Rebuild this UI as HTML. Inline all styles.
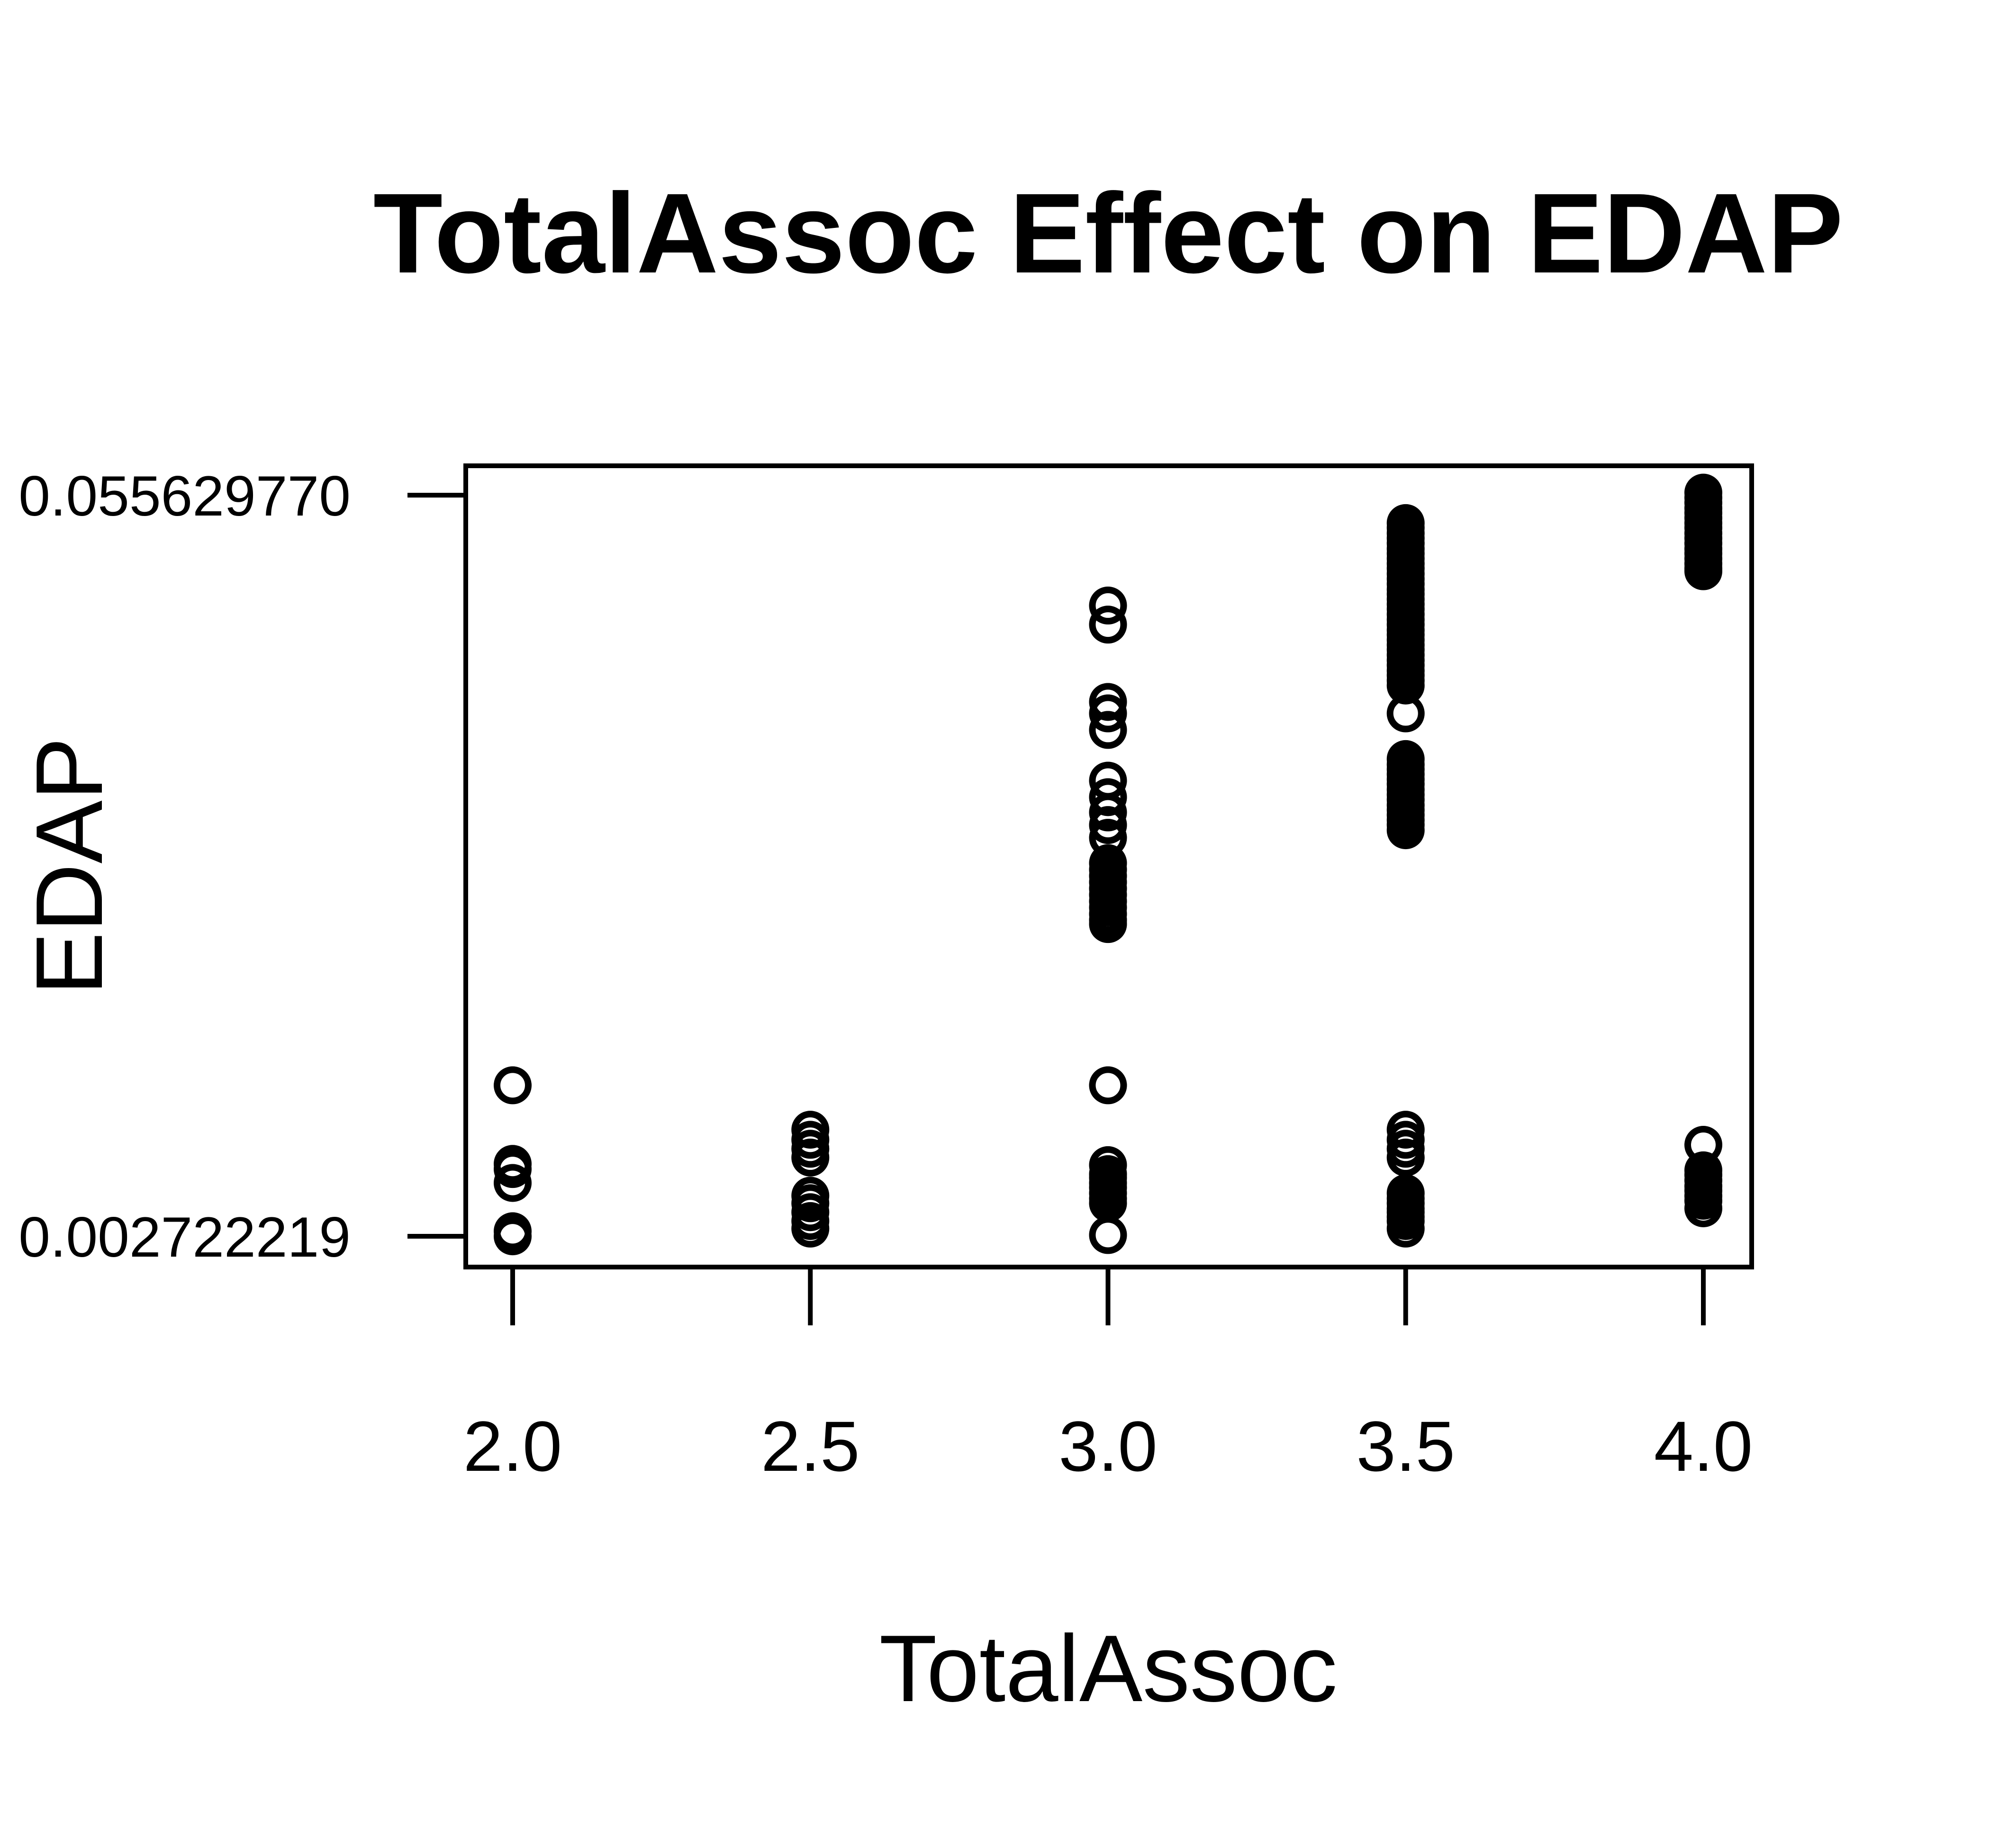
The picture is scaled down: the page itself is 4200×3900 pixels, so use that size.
<!DOCTYPE html>
<html><head><meta charset="utf-8"><style>
html,body{margin:0;padding:0;background:#fff;}
svg{display:block;font-family:"Liberation Sans",sans-serif;}
</style></head><body>
<svg id="chart" width="4200" height="3900" viewBox="0 0 4200 3900">
<text x="2339" y="575" text-anchor="middle" font-size="240" font-weight="bold">TotalAssoc Effect on EDAP</text>
<rect x="983" y="983" width="2714" height="1691" fill="none" stroke="#000" stroke-width="10"/>
<g id="xaxis"></g>
<g id="yaxis"></g>
<g id="points"></g>
<text x="2339" y="3590" text-anchor="middle" font-size="200">TotalAssoc</text>
<text transform="translate(215,1828) rotate(-90)" text-anchor="middle" font-size="200">EDAP</text>
</svg>
<script>
const xCats=[2.0,2.5,3.0,3.5,4.0];
const xTickLabels=["2.0","2.5","3.0","3.5","4.0"];
const yTicks=[0.002722219,0.055629770];
const yTickLabels=["0.002722219","0.055629770"];
const vals20=[0.01350,0.00789,0.00752,0.00653,0.00308,0.00272];
const vals25=[0.01033,0.00961,0.00897,0.00834,0.00562,0.00508,0.00444,0.00381,0.00327];
const vals30=[0.04775,0.04639,0.04087,0.04005,0.03887,0.03525,0.03407,0.03298,0.03208,0.03117,0.02936,0.02890,0.02845,0.02800,0.02755,0.02710,0.02664,0.02620,0.02573,0.02530,0.02501,0.01350,0.00780,0.00716,0.00690,0.00653,0.00620,0.00580,0.00540,0.00508,0.00281];
const vals35=[0.05364,0.05330,0.05291,0.05255,0.05219,0.05180,0.05147,0.05110,0.05074,0.05040,0.05002,0.04965,0.04929,0.04890,0.04857,0.04820,0.04784,0.04750,0.04712,0.04675,0.04639,0.04600,0.04567,0.04530,0.04494,0.04460,0.04422,0.04385,0.04349,0.04310,0.04277,0.04240,0.04204,0.04005,0.03679,0.03640,0.03606,0.03570,0.03534,0.03500,0.03461,0.03425,0.03389,0.03350,0.03316,0.03280,0.03244,0.03210,0.03171,0.01033,0.00961,0.00897,0.00834,0.00580,0.00540,0.00508,0.00470,0.00444,0.00410,0.00381,0.00327];
const vals40=[0.05581,0.05545,0.05509,0.05470,0.05436,0.05400,0.05364,0.05330,0.05291,0.05255,0.05219,0.05180,0.05147,0.05110,0.05074,0.05040,0.05020,0.00925,0.00743,0.00710,0.00671,0.00630,0.00598,0.00560,0.00526,0.00472];
const groups=[vals20,vals25,vals30,vals35,vals40];
const NS="http://www.w3.org/2000/svg";
function xs(v){return 1082+(v-2.0)/(4.0-2.0)*(3595-1082);}
function ys(v){return 2609-(v-0.002722219)/(0.055629770-0.002722219)*(2609-1045);}
function mk(tag,attrs,parent){const e=document.createElementNS(NS,tag);for(const k in attrs)e.setAttribute(k,attrs[k]);parent.appendChild(e);return e;}
const xa=document.getElementById('xaxis'),ya=document.getElementById('yaxis'),pg=document.getElementById('points');
xCats.forEach((c,i)=>{
  const t=mk('line',{x1:xs(c),x2:xs(c),y1:2674,y2:2797,stroke:'#000','stroke-width':10},xa);
  
  
  const l=mk('text',{x:xs(c),y:3104,'text-anchor':'middle','font-size':150},xa);
  l.textContent=xTickLabels[i];
  
  
});
yTicks.forEach((v,i)=>{
  const t=mk('line',{x1:860,x2:983,y1:ys(v),y2:ys(v),stroke:'#000','stroke-width':10},ya);
  
  
  const l=mk('text',{x:740,y:ys(v)+43,'text-anchor':'end','font-size':120},ya);
  l.textContent=yTickLabels[i];
  
  
});
groups.forEach((g,gi)=>{
  g.forEach(v=>{
    const c=mk('circle',{cx:xs(xCats[gi]),cy:ys(v),r:33,fill:'none',stroke:'#000','stroke-width':14},pg);
    
    
  });
});
</script>
</body></html>
